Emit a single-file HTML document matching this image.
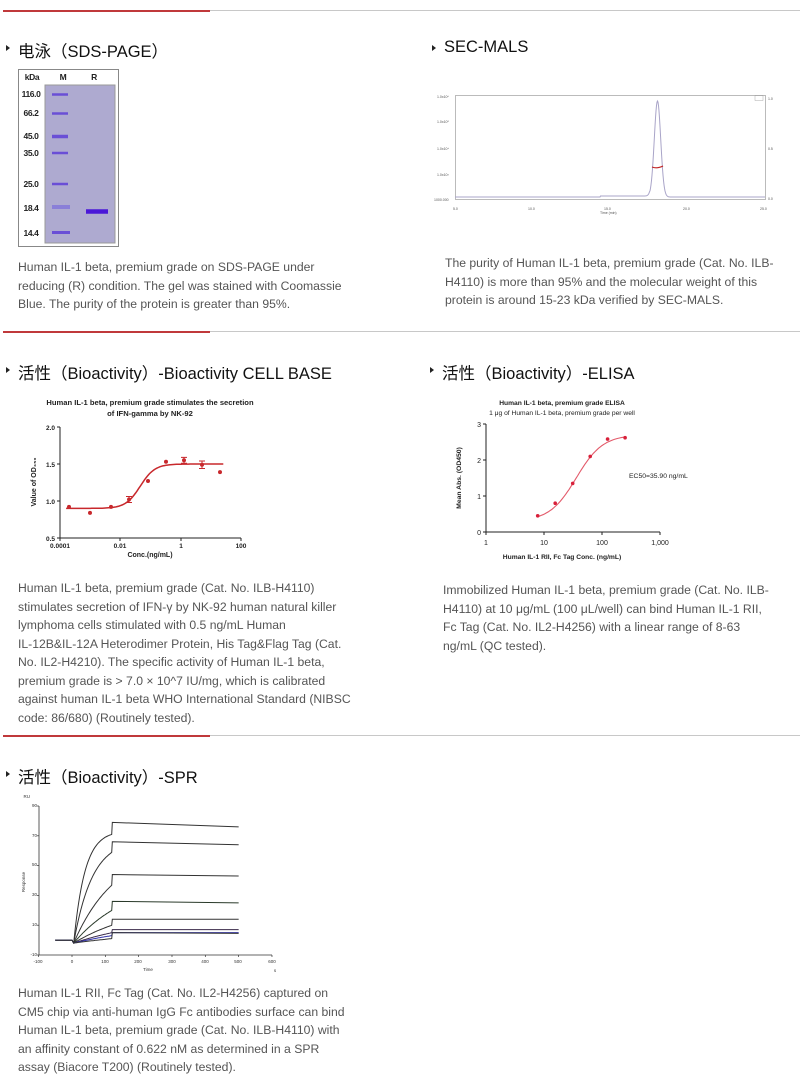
<!DOCTYPE html>
<html><head><meta charset="utf-8"><style>
body{margin:0;width:800px;height:1077px;background:#fff;position:relative;overflow:hidden;font-family:"Liberation Sans","Noto Sans CJK SC",sans-serif}
.sep{position:absolute;left:3px;width:797px;height:1px;background:#c8c8c8}
.sep i{position:absolute;left:0;top:0;width:207px;height:2px;background:#c0393b}
h2{position:absolute;margin:0;font-weight:normal;font-size:16.5px;color:#111;white-space:nowrap}
h2:before{content:"";position:absolute;left:-12px;top:7px;border-left:4px solid #222;border-top:3px solid transparent;border-bottom:3px solid transparent}
p{position:absolute;margin:0;font-size:12.2px;line-height:18.5px;color:#555;white-space:nowrap}
svg{position:absolute;left:0;top:0}
</style></head><body>
<div class="sep" style="top:10px"><i></i></div>
<div class="sep" style="top:331px"><i></i></div>
<div class="sep" style="top:735px"><i></i></div>

<h2 style="left:18px;top:38px">电泳（SDS-PAGE）</h2>
<h2 style="left:444px;top:38px">SEC-MALS</h2>
<h2 style="left:18px;top:360px">活性（Bioactivity）-Bioactivity CELL BASE</h2>
<h2 style="left:442px;top:360px">活性（Bioactivity）-ELISA</h2>
<h2 style="left:18px;top:764px">活性（Bioactivity）-SPR</h2>

<p style="left:18px;top:258px">Human IL-1 beta, premium grade on SDS-PAGE under<br>reducing (R) condition. The gel was stained with Coomassie<br>Blue. The purity of the protein is greater than 95%.</p>
<p style="left:445px;top:254px">The purity of Human IL-1 beta, premium grade (Cat. No. ILB-<br>H4110) is more than 95% and the molecular weight of this<br>protein is around 15-23 kDa verified by SEC-MALS.</p>
<p style="left:18px;top:579px">Human IL-1 beta, premium grade (Cat. No. ILB-H4110)<br>stimulates secretion of IFN-γ by NK-92 human natural killer<br>lymphoma cells stimulated with 0.5 ng/mL Human<br>IL-12B&amp;IL-12A Heterodimer Protein, His Tag&amp;Flag Tag (Cat.<br>No. IL2-H4210). The specific activity of Human IL-1 beta,<br>premium grade is &gt; 7.0 × 10^7 IU/mg, which is calibrated<br>against human IL-1 beta WHO International Standard (NIBSC<br>code: 86/680) (Routinely tested).</p>
<p style="left:443px;top:581px">Immobilized Human IL-1 beta, premium grade (Cat. No. ILB-<br>H4110) at 10 μg/mL (100 μL/well) can bind Human IL-1 RII,<br>Fc Tag (Cat. No. IL2-H4256) with a linear range of 8-63<br>ng/mL (QC tested).</p>
<p style="left:18px;top:984px">Human IL-1 RII, Fc Tag (Cat. No. IL2-H4256) captured on<br>CM5 chip via anti-human IgG Fc antibodies surface can bind<br>Human IL-1 beta, premium grade (Cat. No. ILB-H4110) with<br>an affinity constant of 0.622 nM as determined in a SPR<br>assay (Biacore T200) (Routinely tested).</p>

<svg width="800" height="1077" font-family="Liberation Sans, sans-serif">
<rect x="18.5" y="69.5" width="100" height="177" fill="#fff" stroke="#888"/>
<rect x="45" y="85" width="70" height="158" fill="#aeaad0" stroke="#999"/>
<g font-size="8.5" fill="#222" text-anchor="middle" font-weight="bold" letter-spacing="-0.4">
<text x="32" y="80">kDa</text><text x="63" y="80">M</text><text x="94" y="80">R</text>
<text x="31" y="97">116.0</text><text x="31" y="116">66.2</text><text x="31" y="139">45.0</text><text x="31" y="156">35.0</text><text x="31" y="187">25.0</text><text x="31" y="211">18.4</text><text x="31" y="236">14.4</text></g>
<g stroke="#6a4fd6" stroke-width="2.5"><line x1="52" x2="68" y1="94.5" y2="94.5"/><line x1="52" x2="68" y1="113.5" y2="113.5"/><line x1="52" x2="68" y1="136.5" y2="136.5" stroke-width="3.5"/><line x1="52" x2="68" y1="153" y2="153"/><line x1="52" x2="68" y1="184" y2="184"/><line x1="52" x2="70" y1="207" y2="207" stroke="#8a7fd8" stroke-width="4"/><line x1="52" x2="70" y1="232.5" y2="232.5" stroke-width="3"/></g>
<line x1="86" x2="108" y1="211.5" y2="211.5" stroke="#4a17d8" stroke-width="4.5"/>

<rect x="455.5" y="95.5" width="310" height="104" fill="none" stroke="#bbb"/>
<g font-size="3.5" fill="#555"><text x="437" y="98">1.0x10⁶</text><text x="437" y="123">1.0x10⁵</text><text x="437" y="150">1.0x10⁴</text><text x="437" y="176">1.0x10³</text><text x="434" y="201">1000.000</text>
<text x="453" y="210">5.0</text><text x="528" y="210">10.0</text><text x="604" y="210">15.0</text><text x="683" y="210">20.0</text><text x="760" y="210">25.0</text><text x="600" y="214">Time (min)</text>
<text x="768" y="100">1.0</text><text x="768" y="150">0.5</text><text x="768" y="200">0.0</text></g>
<rect x="755" y="95.5" width="8" height="5" fill="none" stroke="#999" stroke-width=".4"/>
<path id="sec" fill="none" stroke="#a9a4c8" stroke-width="1"/>
<path d="M652 167 Q657 169 663 166" stroke="#c02020" fill="none" stroke-width="1.2"/>

<g font-size="7.6" font-weight="bold" fill="#222" text-anchor="middle"><text x="150" y="405">Human IL-1 beta, premium grade stimulates the secretion</text><text x="150" y="416">of IFN-gamma by NK-92</text>
<text x="150" y="557" font-size="7">Conc.(ng/mL)</text></g>
<g stroke="#222" stroke-width="1" fill="none"><path d="M60 427V538H241"/><path d="M57 427h3M57 464h3M57 501h3M57 538h3M60 538v3M120 538v3M181 538v3M241 538v3"/></g>
<g font-size="6.5" font-weight="bold" fill="#222" text-anchor="end"><text x="55" y="430">2.0</text><text x="55" y="467">1.5</text><text x="55" y="504">1.0</text><text x="55" y="541">0.5</text></g>
<g font-size="6.5" font-weight="bold" fill="#222" text-anchor="middle"><text x="60" y="548">0.0001</text><text x="120" y="548">0.01</text><text x="181" y="548">1</text><text x="241" y="548">100</text></g>
<text transform="translate(36 482) rotate(-90)" font-size="7" font-weight="bold" text-anchor="middle" fill="#222">Value of OD₄₅₀</text>
<path id="cell" fill="none" stroke="#c8282c" stroke-width="1.5"/>
<g id="cellpts" fill="#c8282c"></g>

<g font-size="6.7" fill="#222" text-anchor="middle"><text x="562" y="405" font-weight="bold">Human IL-1 beta, premium grade ELISA</text><text x="562" y="415">1 μg of Human IL-1 beta, premium grade per well</text>
<text x="562" y="559" font-weight="bold">Human IL-1 RII, Fc Tag Conc. (ng/mL)</text></g>
<g stroke="#222" stroke-width="1" fill="none"><path d="M486 424V532H660"/><path d="M483 424h3M483 460h3M483 496h3M483 532h3M486 532v3M544 532v3M602 532v3M660 532v3"/></g>
<g font-size="7" fill="#222" text-anchor="end"><text x="481" y="427">3</text><text x="481" y="463">2</text><text x="481" y="499">1</text><text x="481" y="535">0</text></g>
<g font-size="7" fill="#222" text-anchor="middle"><text x="486" y="545">1</text><text x="544" y="545">10</text><text x="602" y="545">100</text><text x="660" y="545">1,000</text></g>
<text transform="translate(461 478) rotate(-90)" font-size="6.8" font-weight="bold" text-anchor="middle" fill="#222">Mean Abs. (OD450)</text>
<text x="629" y="478" font-size="6.8" fill="#222">EC50=35.90 ng/mL</text>
<path id="eli" fill="none" stroke="#e35a6a" stroke-width="1.1"/>
<g id="elipts" fill="#d8203a"></g>

<g stroke="#333" stroke-width=".8" fill="none"><path d="M39 806V955H272"/></g>
<g id="sprt" stroke="#333" stroke-width=".7"></g>
<g font-size="4.5" fill="#333" text-anchor="end"><text x="37" y="807">90</text><text x="37" y="837">70</text><text x="37" y="866">50</text><text x="37" y="896">30</text><text x="37" y="926">10</text><text x="37" y="956">-10</text><text x="30" y="798">RU</text></g>
<g font-size="4.5" fill="#333" text-anchor="middle"><text x="38" y="963">-100</text><text x="72" y="963">0</text><text x="105" y="963">100</text><text x="138" y="963">200</text><text x="172" y="963">300</text><text x="205" y="963">400</text><text x="238" y="963">500</text><text x="272" y="963">600</text><text x="148" y="971">Time</text><text x="275" y="972">s</text></g>
<text transform="translate(25 882) rotate(-90)" font-size="4.5" text-anchor="middle" fill="#333">Response</text>
<g id="spr" fill="none" stroke-width="1"></g>
</svg>
<script>
function $(i){return document.getElementById(i)}
var s="M455 197";for(var x=455;x<=765;x+=.5){var y=197-96*Math.exp(-Math.pow((x-657.5)/3.2,2)/2)-(x>600&&x<650?1:0);s+=" L"+x+" "+y.toFixed(2)}$("sec").setAttribute("d",s);
function cx(c){return 60+(Math.log10(c)+4)*30.25}function cy(v){return 501-(v-1)*74}
s="";for(var l=-3.8;l<=1.4;l+=.05){var c=Math.pow(10,l),v=.9+.6/(1+Math.pow(.045/c,1.8));s+=(s?" L":"M")+cx(c).toFixed(1)+" "+cy(v).toFixed(1)}$("cell").setAttribute("d",s);
var px=[69,90,111,129,148,166,184,202,220],pv=[.92,.84,.92,1.02,1.27,1.53,1.55,1.49,1.39],h="";
px.forEach(function(x,i){h+='<circle cx="'+x+'" cy="'+cy(pv[i])+'" r="2"/>'});
[[129,1.02,.04],[184,1.55,.04],[202,1.49,.05]].forEach(function(e){var y1=cy(e[1]+e[2]),y2=cy(e[1]-e[2]);h+='<path d="M'+e[0]+' '+y1+'V'+y2+'M'+(e[0]-3)+' '+y1+'h6M'+(e[0]-3)+' '+y2+'h6" stroke="#c8282c" stroke-width="1"/>'});
$("cellpts").innerHTML=h;
function ex(c){return 486+Math.log10(c)*58}function ey(v){return 532-v*36}
s="";for(var l=Math.log10(7.8);l<=Math.log10(250);l+=.03){var c=Math.pow(10,l),v=.3+2.4/(1+Math.pow(35.9/c,1.9));s+=(s?" L":"M")+ex(c).toFixed(1)+" "+ey(v).toFixed(1)}$("eli").setAttribute("d",s);
h="";[[7.8,.45],[15.6,.8],[31.25,1.35],[62.5,2.1],[125,2.58],[250,2.62]].forEach(function(p){h+='<circle cx="'+ex(p[0]).toFixed(1)+'" cy="'+ey(p[1]).toFixed(1)+'" r="1.8"/>'});$("elipts").innerHTML=h;
function sx(t){return 72+t*.3333}function sy(r){return 955-(r+10)*1.49}
h="";[-100,0,100,200,300,400,500,600].forEach(function(t){h+='<line x1="'+sx(t)+'" x2="'+sx(t)+'" y1="955" y2="957"/>'});for(var r=-10;r<=90;r+=20)h+='<line x1="37" x2="39" y1="'+sy(r)+'" y2="'+sy(r)+'"/>';$("sprt").innerHTML=h;
var L=[[71,79,76,.03,"#333"],[59,66,64,.018,"#333"],[37,44,43,.008,"#333"],[20,26,25,.006,"#2a3a2a"],[10,14,14,.005,"#333"],[5,7,7,.004,"#3a2a4a"],[3,5,5,.004,"#3333aa"],[1,5,4.5,.003,"#333"]];
h="";L.forEach(function(q){var d="M"+sx(-50)+" "+sy(0)+" L"+sx(0)+" "+sy(0)+" L"+sx(5)+" "+sy(-2);for(var t=5;t<=120;t+=3){var v=-2+(q[0]+2)*(1-Math.exp(-q[3]*(t-5)))/(1-Math.exp(-q[3]*115));d+=" L"+sx(t).toFixed(1)+" "+sy(v).toFixed(1)}d+=" L"+sx(121)+" "+sy(q[1])+" L"+sx(500)+" "+sy(q[2]);h+='<path d="'+d+'" stroke="'+q[4]+'"/>'});$("spr").innerHTML=h;
</script>
</body></html>
